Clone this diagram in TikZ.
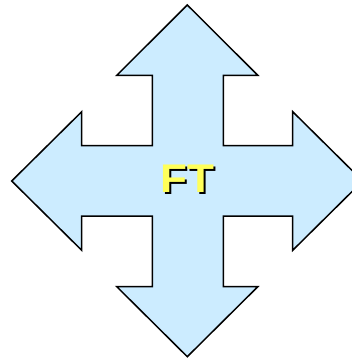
\documentclass[tikz,border=0pt]{standalone}
\usepackage{fontspec}
\setmainfont{Liberation Sans}
\newfontfamily\ftfont{Liberation Sans Bold}
\definecolor{arrowfill}{RGB}{204,236,255}
\definecolor{ftyellow}{RGB}{255,255,90}
\begin{document}
\begin{tikzpicture}[x=1pt,y=-1pt,
  crossarrow/.style={draw=black,fill=arrowfill,line width=1.5pt,line join=miter},
  fttext/.style={font=\ftfont\fontsize{40}{40}\selectfont,inner sep=0pt,xscale=1.1}]
\useasboundingbox (0,0) rectangle (352,359);
\clip (0,0) rectangle (352,359);
\draw[crossarrow]
  (187.3,5) -- (257.8,75.3) -- (223.3,75.3) -- (223.3,145.7)
  -- (292.7,145.7) -- (292.7,111.7) -- (362.7,181) -- (292.7,250.3)
  -- (292.7,216.2) -- (223.3,216.2) -- (223.3,286.7) -- (257.8,286.7)
  -- (187.3,356.7) -- (116.8,286.7) -- (152.3,286.7) -- (152.3,216.2)
  -- (81.7,216.2) -- (81.7,250.3) -- (11.7,181) -- (81.7,111.7)
  -- (81.7,145.7) -- (152.3,145.7) -- (152.3,75.3) -- (116.8,75.3) -- cycle;
\node[fttext,text=black] (ftshadow) at (189.8,180.8) {FT};
\node[fttext,text=ftyellow] (ft) at (187.3,178.3) {FT};
\end{tikzpicture}
\end{document}
